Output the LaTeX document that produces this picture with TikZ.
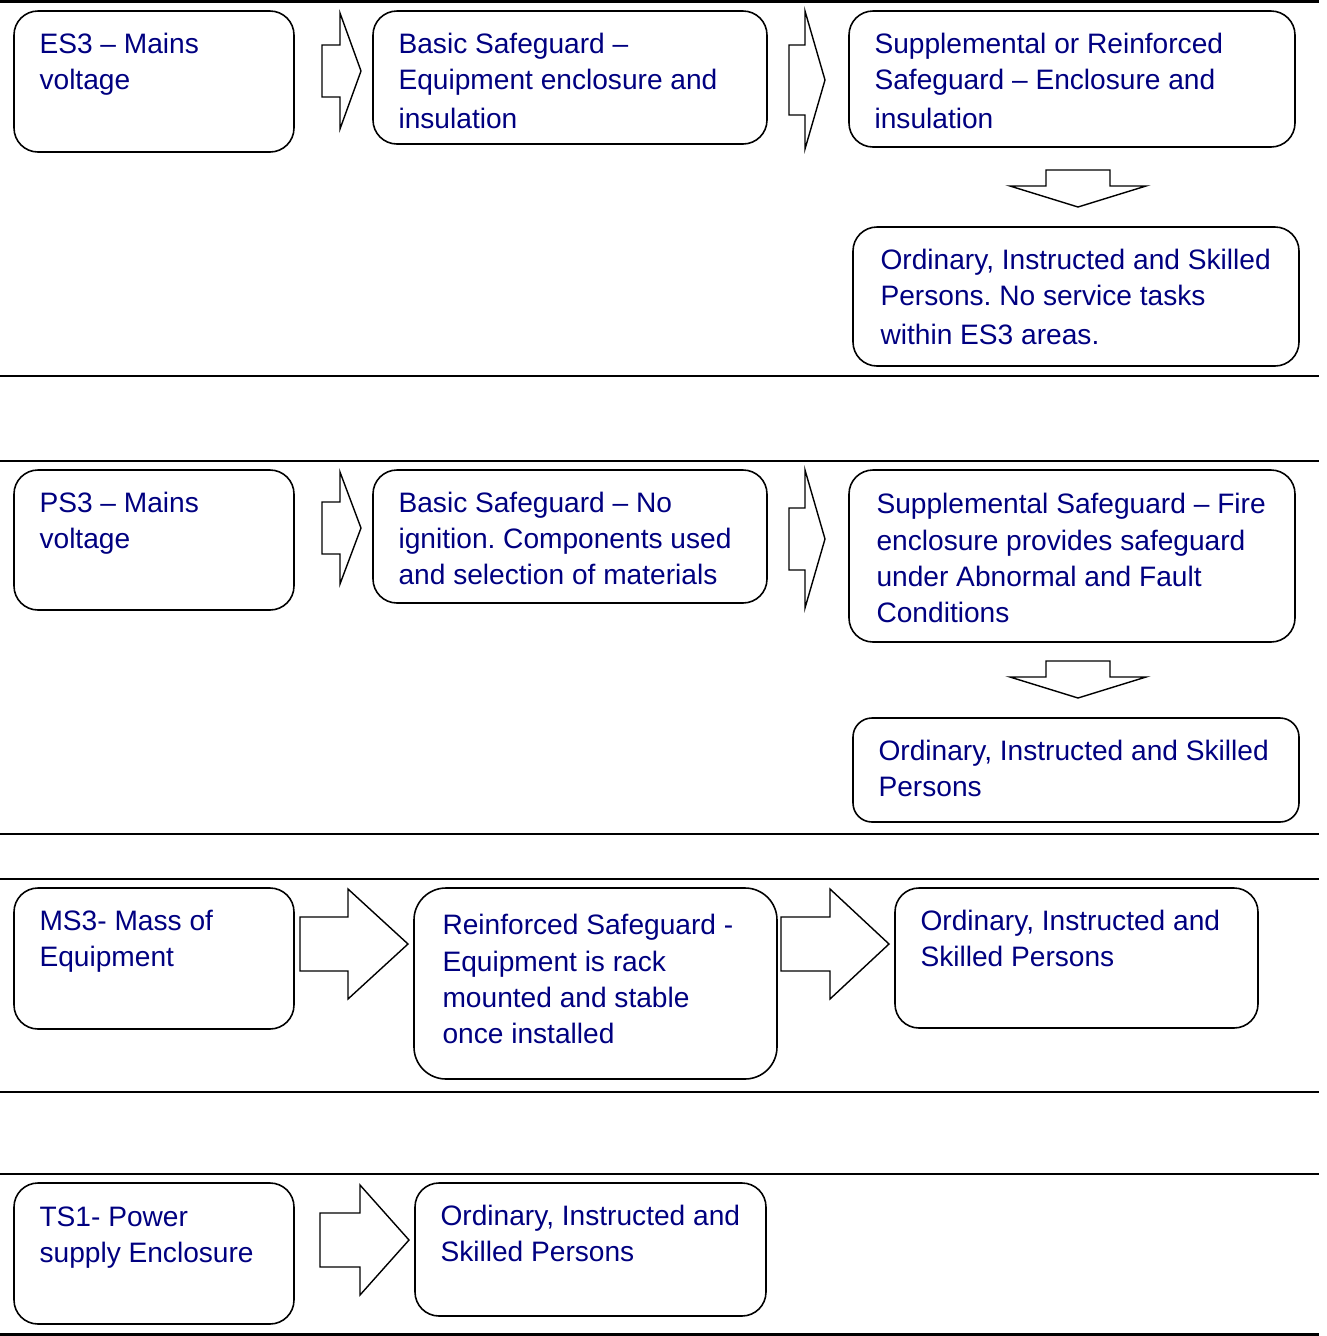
\documentclass[tikz,border=0pt]{standalone}
\usepackage{fontspec}
\setmainfont{Liberation Sans}
\usepackage{tikz}
\usetikzlibrary{fit}
\definecolor{navytext}{RGB}{0,0,128}
\frenchspacing

% block arrows: body left, head base, tip x, centre y, body half, head half
\newcommand{\rightblock}[6]{
    \draw[blk] (#1,#4-#5) -- (#2,#4-#5) -- (#2,#4-#6) -- (#3,#4)
        -- (#2,#4+#6) -- (#2,#4+#5) -- (#1,#4+#5) -- cycle;
}
% centre x, top, head base, tip y, body half, head half
\newcommand{\downblock}[6]{
    \draw[blk] (#1-#5,#2) -- (#1+#5,#2) -- (#1+#5,#3) -- (#1+#6,#3)
        -- (#1,#4) -- (#1-#6,#3) -- (#1-#5,#3) -- cycle;
}

\tikzset{
    box/.style={draw, rounded corners=4.8mm, inner sep=0pt, line width=0.9pt},
    txt/.style={anchor=north west, inner sep=0pt, align=left, text=navytext,
        font=\fontsize{16}{20.6}\selectfont, xshift=5.2mm, yshift=-4.5mm},
    rule/.style={line width=1.6pt},
    blk/.style={draw, line width=0.8pt, line join=miter},
}

\begin{document}
\begin{tikzpicture}[x=0.2mm,y=-0.2mm]
\useasboundingbox (0,0) rectangle (1327,1336);

% separating rules
\foreach \y in {1.5,376,461,834,879,1092,1174,1334.5} {
    \draw[rule] (0,\y) -- (1319,\y);
}

% ES3
\node[box, fit={(14,11) (294,152)}] (es3) {};
\node[txt] (es3t) at (es3.north west) {ES3 – Mains\\voltage};
\node[box, fit={(373,11) (767,144)}] (bs1) {};
\node[txt] (bs1t) at (bs1.north west) {Basic Safeguard –\\Equipment enclosure and\\[0.6mm]insulation};
\node[box, fit={(849,11) (1295,147)}] (ss1) {};
\node[txt] (ss1t) at (ss1.north west) {Supplemental or Reinforced\\Safeguard – Enclosure and\\[0.6mm]insulation};
\node[box, fit={(853,227) (1299,366)}] (op1) {};
\node[txt, xshift=0.4mm] (op1t) at (op1.north west) {Ordinary, Instructed and Skilled\\Persons. No service tasks\\[0.6mm]within ES3 areas.};
\rightblock{322}{340}{361}{71}{26}{58}
\rightblock{789}{805}{825}{80}{35}{69}
\downblock{1078}{170}{186}{207}{32}{68}

% PS3
\node[box, fit={(14,470) (294,610)}] (ps3) {};
\node[txt] (ps3t) at (ps3.north west) {PS3 – Mains\\voltage};
\node[box, fit={(373,470) (767,603)}] (bs2) {};
\node[txt] (bs2t) at (bs2.north west) {Basic Safeguard – No\\ignition. Components used\\and selection of materials};
\node[box, fit={(849,470) (1295,642)}] (ss2) {};
\node[txt, xshift=0.4mm, yshift=-0.3mm] (ss2t) at (ss2.north west) {Supplemental Safeguard – Fire\\enclosure provides safeguard\\under Abnormal and Fault\\Conditions};
\node[box, rounded corners=3.8mm, fit={(853,718) (1299,822)}] (op2) {};
\node[txt] (op2t) at (op2.north west) {Ordinary, Instructed and Skilled\\Persons};
\rightblock{322}{340}{361}{528}{26}{56}
\rightblock{789}{805}{825}{539}{31}{69}
\downblock{1078}{661}{677}{698}{32}{68}

% MS3
\node[box, fit={(14,888) (294,1029)}] (ms3) {};
\node[txt] (ms3t) at (ms3.north west) {MS3- Mass of\\Equipment};
\node[box, rounded corners=6.4mm, fit={(414,888) (777,1079)}] (rs3) {};
\node[txt, xshift=0.6mm, yshift=-0.9mm] (rs3t) at (rs3.north west) {Reinforced Safeguard -\\Equipment is rack\\mounted and stable\\once installed};
\node[box, fit={(895,888) (1258,1028)}] (op3) {};
\node[txt] (op3t) at (op3.north west) {Ordinary, Instructed and\\Skilled Persons};
\rightblock{300}{348}{408}{944}{27}{55}
\rightblock{781}{830}{889}{944}{27}{55}

% TS1
\node[box, fit={(14,1183) (294,1324)}] (ts1) {};
\node[txt, yshift=-0.3mm] (ts1t) at (ts1.north west) {TS1- Power\\supply Enclosure};
\node[box, fit={(415,1183) (766,1316)}] (op4) {};
\node[txt] (op4t) at (op4.north west) {Ordinary, Instructed and\\Skilled Persons};
\rightblock{320}{360}{409}{1240}{27}{55}
\end{tikzpicture}
\end{document}
